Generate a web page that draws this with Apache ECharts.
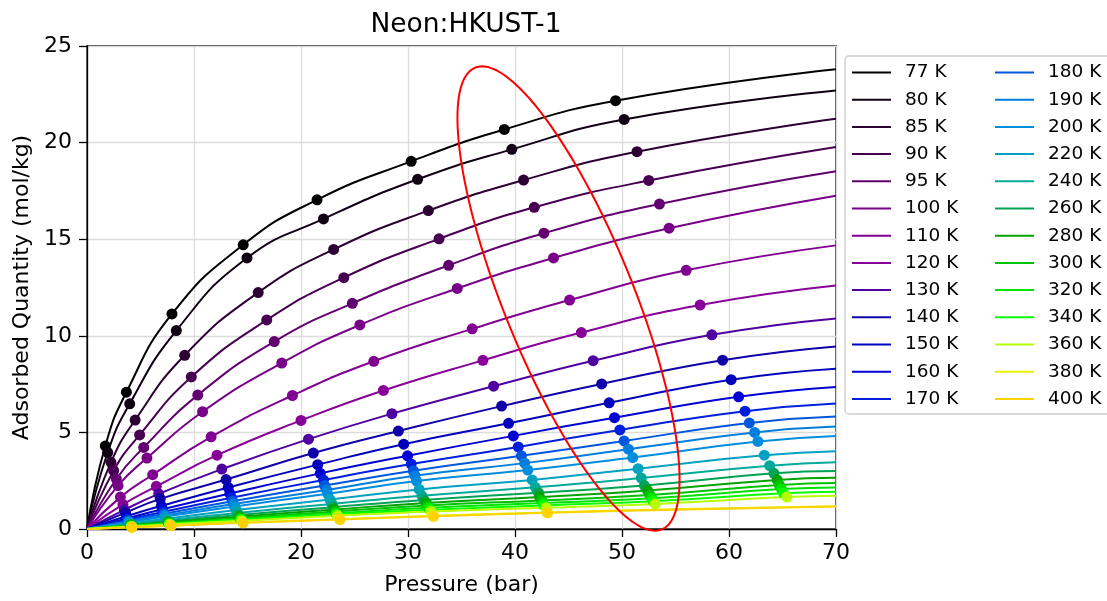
<!DOCTYPE html>
<html>
<head>
<meta charset="utf-8">
<title>Neon:HKUST-1</title>
<script src="https://cdn.jsdelivr.net/npm/echarts@6/dist/echarts.min.js"></script>
<style>
  html, body { margin: 0; padding: 0; background: #fff; }
  #chart { width: 1107px; height: 601px; }
</style>
</head>
<body>
<div id="chart"></div>
<script>
const temps = [77, 80, 85, 90, 95, 100, 110, 120, 130, 140, 150, 160, 170,
  180, 190, 200, 220, 240, 260, 280, 300, 320, 340, 360, 380, 400];

// pressure (bar) of each measured point, one row per temperature
const pointP = [
  [1.71, 3.68, 7.94, 14.6, 21.5, 30.3, 39.0, 49.4],
  [1.93, 3.99, 8.35, 14.95, 22.1, 30.9, 39.7, 50.2],
  [2.24, 4.50, 9.13, 16.0, 23.05, 31.9, 40.8, 51.4],
  [2.49, 4.92, 9.75, 16.8, 24.0, 32.9, 41.8, 52.5],
  [2.74, 5.30, 10.35, 17.5, 24.8, 33.8, 42.7, 53.5],
  [2.90, 5.60, 10.8, 18.2, 25.5, 34.6, 43.6, 54.4],
  [3.12, 6.14, 11.6, 19.2, 26.8, 36.0, 45.1, 56.0],
  [3.36, 6.48, 12.15, 20.0, 27.7, 37.0, 46.2, 57.3],
  [3.49, 6.70, 12.6, 20.7, 28.5, 38.0, 47.3, 58.4],
  [3.60, 6.85, 13.0, 21.15, 29.1, 38.75, 48.1, 59.4],
  [3.68, 6.95, 13.2, 21.56, 29.6, 39.4, 48.8, 60.2],
  [3.74, 7.05, 13.35, 21.8, 29.96, 39.85, 49.3, 60.9],
  [3.80, 7.12, 13.5, 22.1, 30.3, 40.3, 49.8, 61.5],
  [3.84, 7.20, 13.6, 22.2, 30.5, 40.6, 50.2, 61.9],
  [3.88, 7.25, 13.7, 22.4, 30.65, 40.9, 50.6, 62.4],
  [3.92, 7.30, 13.8, 22.5, 30.8, 41.2, 51.0, 62.7],
  [3.98, 7.40, 13.95, 22.7, 31.05, 41.6, 51.5, 63.3],
  [4.02, 7.50, 14.05, 22.9, 31.3, 41.9, 51.8, 63.8],
  [4.06, 7.55, 14.15, 23.0, 31.5, 42.2, 52.1, 64.2],
  [4.09, 7.60, 14.25, 23.1, 31.7, 42.3, 52.4, 64.5],
  [4.11, 7.65, 14.3, 23.2, 31.8, 42.5, 52.6, 64.7],
  [4.13, 7.68, 14.35, 23.3, 31.9, 42.6, 52.8, 64.9],
  [4.15, 7.70, 14.4, 23.3, 32.05, 42.7, 52.9, 65.1],
  [4.17, 7.73, 14.45, 23.4, 32.15, 42.9, 53.1, 65.4],
  [4.19, 7.83, 14.55, 23.55, 32.3, 43.0],
  [4.20, 7.88, 14.6, 23.65, 32.4, 43.05]
];

// adsorbed quantity (mol/kg) of each measured point
const pointQ = [
  [4.30, 7.08, 11.13, 14.71, 17.04, 19.03, 20.68, 22.17],
  [3.96, 6.48, 10.27, 14.03, 16.05, 18.10, 19.65, 21.20],
  [3.45, 5.64, 8.99, 12.24, 14.47, 16.48, 18.06, 19.53],
  [3.02, 4.87, 7.87, 10.82, 13.01, 15.02, 16.65, 18.04],
  [2.59, 4.22, 6.93, 9.70, 11.68, 13.65, 15.31, 16.82],
  [2.25, 3.67, 6.07, 8.59, 10.56, 12.45, 14.03, 15.57],
  [1.65, 2.81, 4.77, 6.91, 8.68, 10.36, 11.85, 13.39],
  [1.27, 2.21, 3.82, 5.62, 7.17, 8.73, 10.17, 11.59],
  [0.99, 1.82, 3.10, 4.65, 5.97, 7.39, 8.71, 10.05],
  [0.85, 1.56, 2.56, 3.93, 5.07, 6.36, 7.51, 8.74],
  [0.66, 1.20, 2.15, 3.33, 4.39, 5.47, 6.53, 7.73],
  [0.55, 1.02, 1.84, 2.88, 3.79, 4.82, 5.76, 6.84],
  [0.49, 0.89, 1.62, 2.54, 3.36, 4.25, 5.13, 6.10],
  [0.43, 0.79, 1.44, 2.25, 3.02, 3.79, 4.56, 5.49],
  [0.38, 0.70, 1.29, 2.02, 2.76, 3.41, 4.13, 5.00],
  [0.345, 0.64, 1.17, 1.82, 2.48, 3.05, 3.70, 4.53],
  [0.29, 0.53, 0.98, 1.53, 2.05, 2.54, 3.12, 3.82],
  [0.245, 0.45, 0.83, 1.30, 1.72, 2.16, 2.64, 3.28],
  [0.215, 0.39, 0.72, 1.13, 1.50, 1.88, 2.25, 2.88],
  [0.19, 0.35, 0.64, 1.01, 1.35, 1.65, 1.99, 2.54],
  [0.17, 0.31, 0.57, 0.91, 1.22, 1.48, 1.76, 2.28],
  [0.155, 0.28, 0.52, 0.82, 1.10, 1.34, 1.59, 2.07],
  [0.14, 0.26, 0.48, 0.76, 0.99, 1.22, 1.44, 1.85],
  [0.13, 0.24, 0.43, 0.69, 0.91, 1.10, 1.30, 1.65],
  [0.095, 0.175, 0.33, 0.51, 0.68, 0.86],
  [0.09, 0.17, 0.32, 0.49, 0.66, 0.84]
];

// fitted curve value at 70 bar
const endQ = [23.8, 22.7, 21.23, 19.77, 18.52, 17.25, 14.68, 12.6, 10.9, 9.45,
  8.3, 7.35, 6.5, 5.82, 5.3, 4.82, 4.03, 3.45, 3.0, 2.65, 2.38, 2.15, 1.93, 1.72,
  1.18, 1.16];
// extra read-off point of the two hottest fits (56 bar), they bend over
const tailP = 56;
const tailQ = { 380: 1.03, 400: 1.01 };

const xTicks = [0, 10, 20, 30, 40, 50, 60, 70];
const yTicks = [0, 5, 10, 15, 20, 25];

// red ellipse drawn over the plot (centre in data units, axes in px)
const ellipseCenter = [45.0, 11.93];
const ellipseA = 249, ellipseB = 65, ellipseTilt = 68;

// nipy_spectral colormap
const nipyR = [0, .4667, .5333, 0, 0, 0, 0, 0, 0, 0, 0, 0, 0, .7333, .9333, 1, 1, 1, .8667, .8, .8];
const nipyG = [0, 0, 0, 0, 0, .4667, .6, .6667, .6667, .6, .7333, .8667, 1, 1, .9333, .8, .6, 0, 0, 0, .8];
const nipyB = [0, .5333, .6, .6667, .8667, .8667, .8667, .6667, .5333, 0, 0, 0, 0, 0, 0, 0, 0, 0, 0, 0, .8];
function nipy(x) {
  const f = Math.max(0, Math.min(1, x)) * 20;
  const i = Math.min(19, Math.floor(f));
  const t = f - i;
  const c = (a) => Math.round((a[i] + (a[i + 1] - a[i]) * t) * 255);
  return `rgb(${c(nipyR)},${c(nipyG)},${c(nipyB)})`;
}
const colorOf = (T) => nipy((T - 77) / (400 - 77) * 0.74);

const font = "DejaVu Sans";
const series = [];

temps.forEach((T, i) => {
  const color = colorOf(T);
  const pts = pointP[i].map((p, k) => [p, pointQ[i][k]]);
  const curve = [[0, 0]].concat(pts);
  if (tailQ[T] !== undefined) curve.push([tailP, tailQ[T]]);
  curve.push([70, endQ[i]]);
  series.push({
    name: T + " K",
    type: "line",
    data: curve,
    smooth: 0.5,
    showSymbol: false,
    lineStyle: { width: 2, color: color },
    itemStyle: { color: color },
    z: 2,
  });
  series.push({
    name: "pts " + T,
    type: "scatter",
    data: pts,
    symbolSize: 11,
    itemStyle: { color: color, opacity: 1 },
    z: 3,
  });
});

series.push({
  type: "custom",
  name: "ellipse",
  data: [ellipseCenter],
  z: 4,
  renderItem: function (params, api) {
    const c = api.coord([api.value(0), api.value(1)]);
    const th = ellipseTilt * Math.PI / 180;
    const points = [];
    for (let k = 0; k <= 240; k++) {
      const t = (k / 240) * Math.PI * 2;
      const u = ellipseA * Math.cos(t), v = ellipseB * Math.sin(t);
      points.push([c[0] + u * Math.cos(th) - v * Math.sin(th),
                   c[1] + u * Math.sin(th) + v * Math.cos(th)]);
    }
    return {
      type: "polyline",
      shape: { points: points },
      style: { stroke: "#ff0000", lineWidth: 2, fill: null },
    };
  },
});

const legendBase = {
  orient: "vertical",
  icon: "rect",
  itemWidth: 39,
  itemHeight: 2,
  itemGap: 7.2,
  padding: 0,
  selectedMode: false,
  textStyle: { fontFamily: font, fontSize: 18.5, color: "#000", lineHeight: 20, padding: [0, 0, 0, 9] },
};

const chart = echarts.init(document.getElementById("chart"));
chart.setOption({
  animation: false,
  backgroundColor: "#fff",
  title: {
    text: "Neon:HKUST-1",
    left: 461,
    top: 7,
    textAlign: "center",
    textStyle: { fontFamily: font, fontSize: 26.5, fontWeight: "normal", color: "#000" },
  },
  grid: {
    left: 87, right: 271, top: 46, bottom: 69,
    show: true, borderColor: "#000", borderWidth: 1.3, backgroundColor: "transparent",
  },
  graphic: [{
    type: "rect",
    shape: { x: 845, y: 56, width: 290, height: 358, r: 4 },
    style: { fill: "#fff", stroke: "#cccccc", lineWidth: 1.3 },
    z: -1,
  }],
  legend: [
    Object.assign({}, legendBase, { left: 852, top: 62.5, data: temps.slice(0, 13).map((t) => t + " K") }),
    Object.assign({}, legendBase, { left: 995, top: 62.5, data: temps.slice(13).map((t) => t + " K") }),
  ],
  xAxis: {
    type: "value",
    min: 0, max: 70, interval: 10,
    name: "Pressure (bar)",
    nameLocation: "middle",
    nameGap: 45,
    nameTextStyle: { fontFamily: font, fontSize: 22, color: "#000" },
    axisLine: { show: true, lineStyle: { color: "#000", width: 1.3 } },
    axisTick: { show: true, length: 8, lineStyle: { color: "#000", width: 1.3 } },
    axisLabel: {
      margin: 13, fontFamily: font, fontSize: 22, color: "#000",
      customValues: xTicks,
    },
    splitLine: { show: true, lineStyle: { color: "#dcdcdc", width: 1.3 } },
  },
  yAxis: {
    type: "value",
    min: 0, max: 25, interval: 5,
    name: "Adsorbed Quantity (mol/kg)",
    nameLocation: "middle",
    nameGap: 54,
    nameTextStyle: { fontFamily: font, fontSize: 22, color: "#000" },
    axisLine: { show: true, lineStyle: { color: "#000", width: 1.3 } },
    axisTick: { show: true, length: 8, lineStyle: { color: "#000", width: 1.3 } },
    axisLabel: {
      margin: 15, fontFamily: font, fontSize: 22, color: "#000",
      customValues: yTicks,
    },
    splitLine: { show: true, lineStyle: { color: "#dcdcdc", width: 1.3 } },
  },
  series: series,
});
</script>
</body>
</html>
